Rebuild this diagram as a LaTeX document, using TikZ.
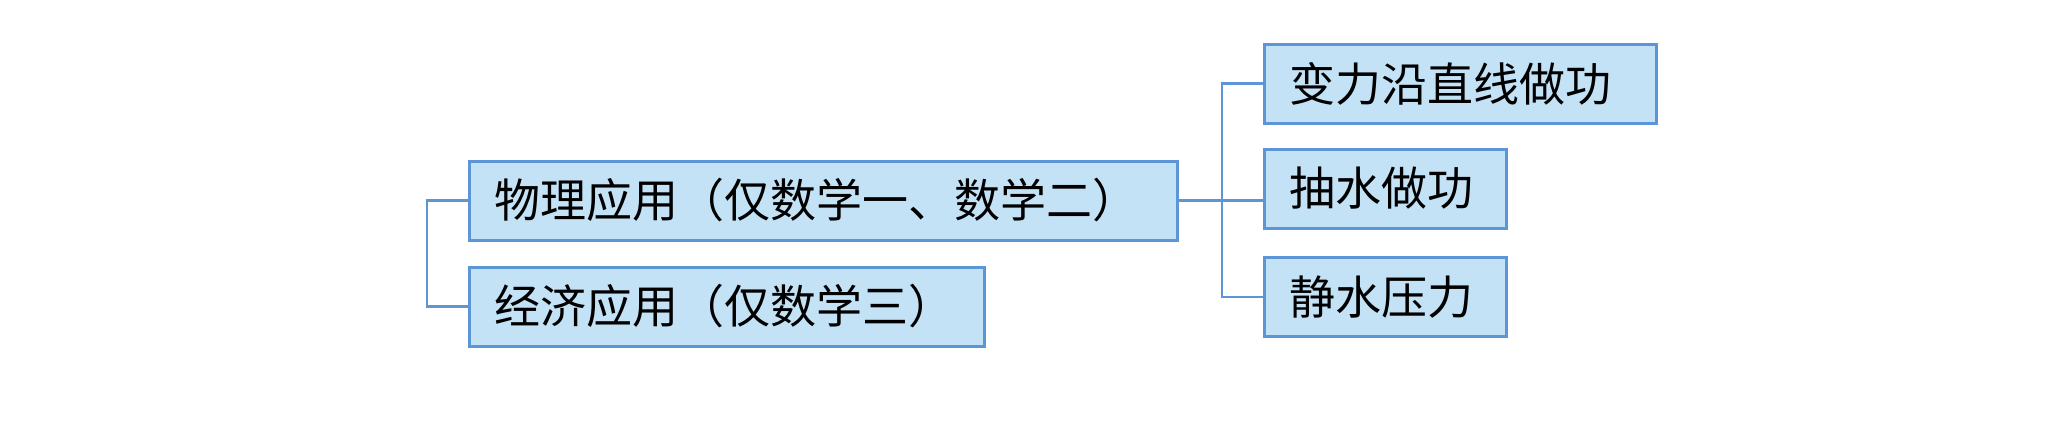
\documentclass[tikz,border=0pt]{standalone}
\usepackage{fontspec}
\setmainfont{Noto Sans CJK SC}
\usetikzlibrary{positioning}

\definecolor{boxfill}{RGB}{196,226,246}
\definecolor{boxline}{RGB}{92,150,214}

\begin{document}
\begin{tikzpicture}[x=0.5pt,y=0.5pt,yscale=-1,xscale=1,
    topic/.style={draw=boxline,fill=boxfill,line width=1.5pt,anchor=west,
      minimum height=39.5pt,inner xsep=12.5pt,inner ysep=0pt,align=left,
      font=\fontsize{23pt}{26pt}\selectfont},
    link/.style={draw=boxline,line width=1.2pt}]
      %set diagram area: 2066 x 428
      \useasboundingbox (0,0) rectangle (2066,428);

      % Text Node
      \node [topic,text width=329pt] (phys) at (468,200.5) {物理应用（仅数学一、数学二）};
      % Text Node
      \node [topic,text width=232.5pt] (econ) at (468,306.5) {经济应用（仅数学三）};
      % Text Node
      \node [topic,text width=171pt] (work) at (1263,83.5) {变力沿直线做功};
      % Text Node
      \node [topic,text width=96pt] (pump) at (1263,188.5) {抽水做功};
      % Text Node
      \node [topic,text width=96pt] (press) at (1263,297) {静水压力};

      %Shape: left bracket
      \coordinate (lspine) at (427,200.5);
      \draw [link] (phys.west) -- (lspine) |- (econ.west);
      %Shape: right bracket
      \coordinate (rspine) at (1222,83.5);
      \draw [link] (work.west) -- (rspine) |- (press.west);
      \draw [link] (phys.east) -- (phys.east -| pump.west);

\end{tikzpicture}
\end{document}
